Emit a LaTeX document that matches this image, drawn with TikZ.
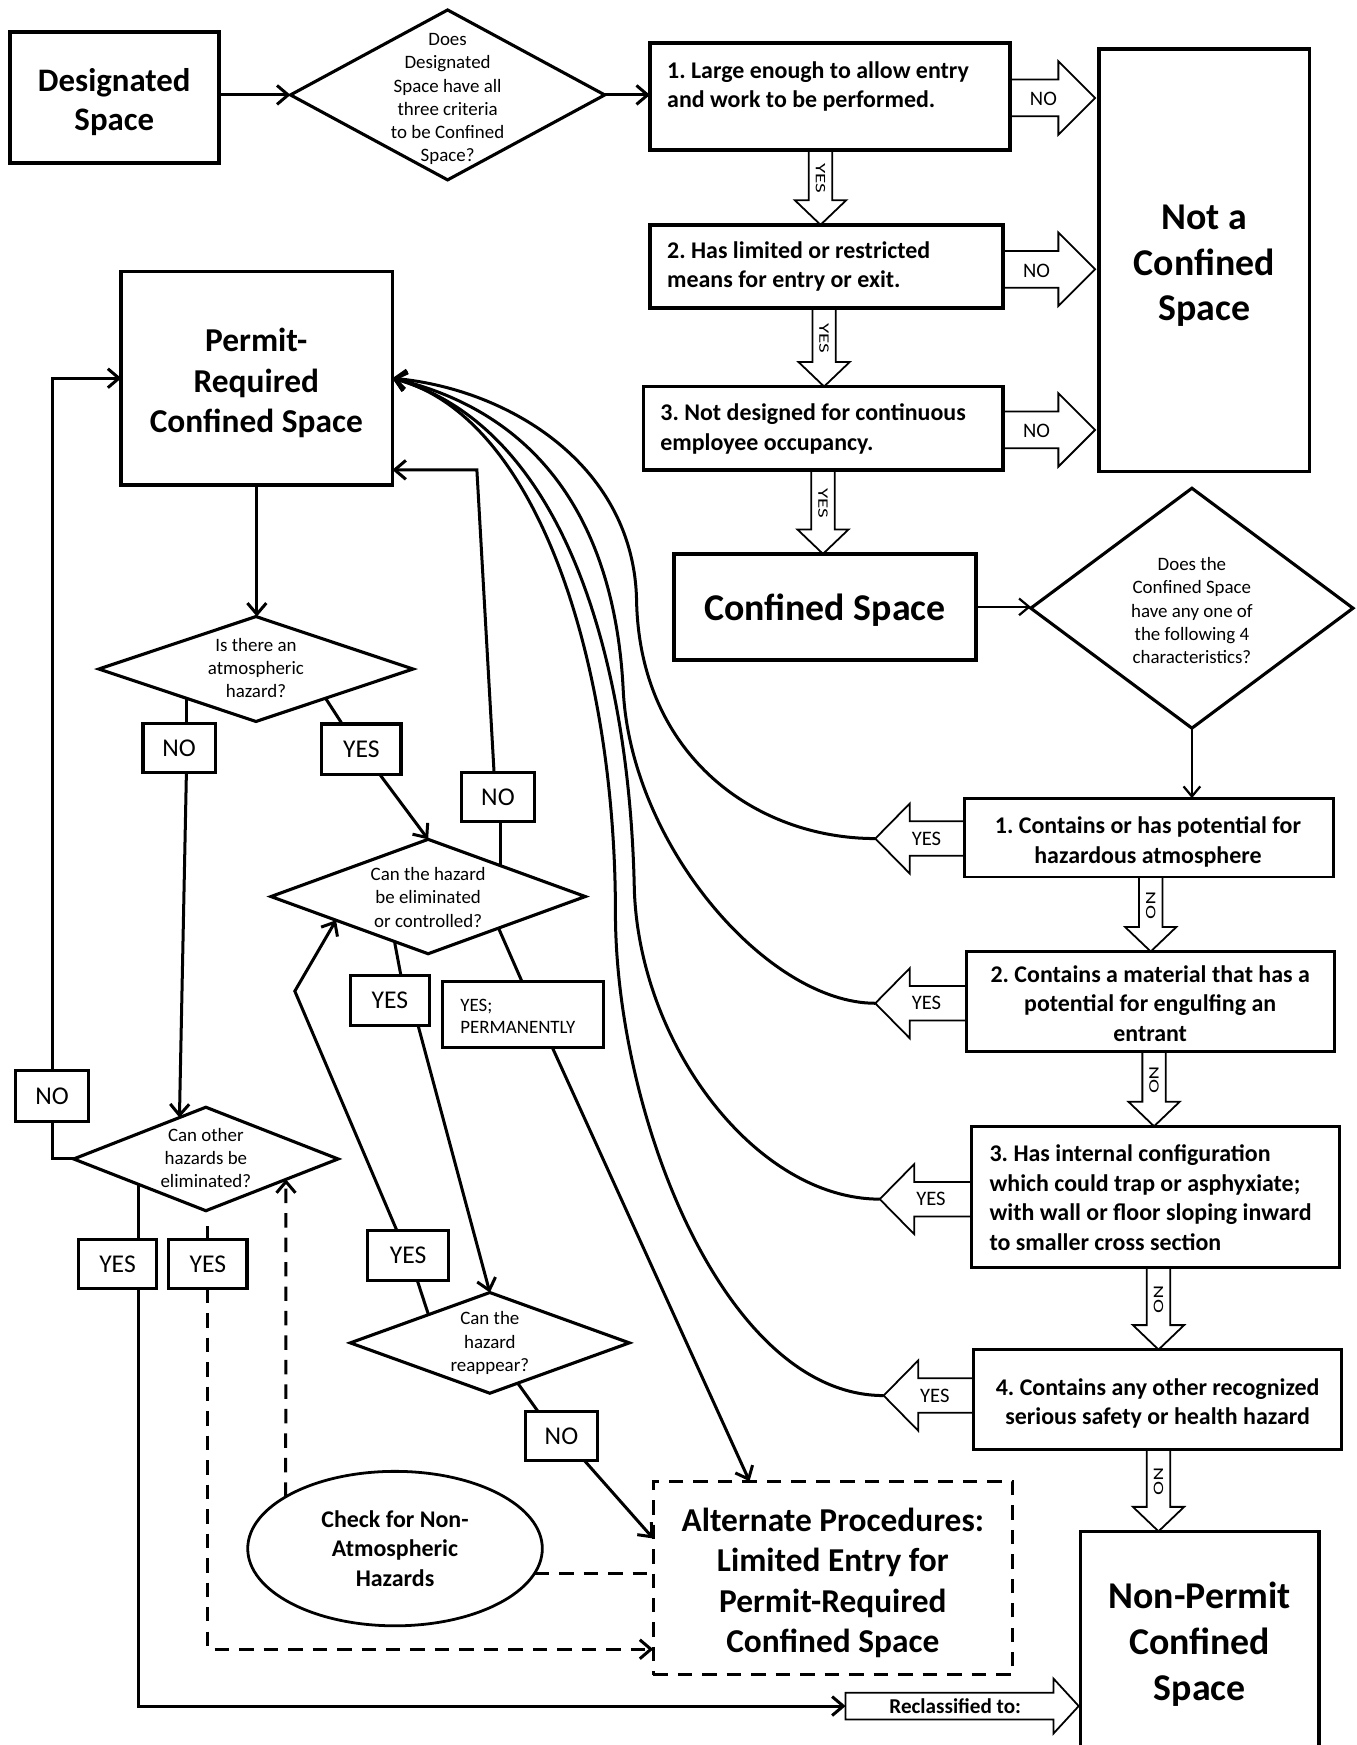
\documentclass[tikz,border=0pt]{standalone}
\usepackage{fontspec}
\setmainfont{Carlito}
\frenchspacing
\usetikzlibrary{shapes.geometric,arrows.meta,calc}
% right-pointing block arrow: name, x tail, x tip, y, label
\newcommand\barR[5]{%
  \draw[barr] (#2,#4-16.5) -- (#3-33,#4-16.5) -- (#3-33,#4-33) -- (#3,#4) -- (#3-33,#4+33) -- (#3-33,#4+16.5) -- (#2,#4+16.5);
  \node[alabel] (#1) at (#2+30,#4+1) {#5};}
% left-pointing block arrow: name, x tail, x tip, y, label
\newcommand\barL[5]{%
  \draw[barr] (#2,#4-15.5) -- (#3+31,#4-15.5) -- (#3+31,#4-31.5) -- (#3,#4) -- (#3+31,#4+31.5) -- (#3+31,#4+15.5) -- (#2,#4+15.5);
  \coordinate (#1tip) at (#3,#4);
  \node[alabel] (#1) at (#3+46,#4) {#5};}
% down-pointing block arrow: name, x, y tail, y tip, label
\newcommand\barD[5]{%
  \draw[barr] (#2-10.5,#3) -- (#2-10.5,#4-22) -- (#2-23,#4-22) -- (#2,#4) -- (#2+23,#4-22) -- (#2+10.5,#4-22) -- (#2+10.5,#3);
  \node[vlabel] (#1) at (#2,{(#3+#4-22)/2+3}) {\scalebox{1.45}[1]{#5}};}
\tikzset{
 every node/.style={inner sep=0pt, outer sep=0pt, text=black},
 bx/.style={draw, line width=3.3pt, rectangle},
 chb/.style={draw, line width=2.4pt, rectangle},
 lb/.style={draw, line width=2.8pt, rectangle, font=\fontsize{23}{27}\selectfont},
 dia/.style={draw, diamond, line width=2.8pt},
 dt/.style={align=center, font=\fontsize{17}{20.8}\selectfont},
 con/.style={line width=2.7pt, -{Straight Barb[length=10pt,width=17pt]}},
 thincon/.style={line width=2pt, -{Straight Barb[length=9pt,width=15pt]}},
 ln/.style={line width=2.7pt},
 dsh/.style={dash pattern=on 13pt off 9pt},
 barr/.style={draw, line width=1.6pt, line join=miter},
 alabel/.style={font=\fontsize{18.5}{22}\selectfont},
 vlabel/.style={font=\fontsize{13}{15}\selectfont, rotate=-90},
 hugeb/.style={font=\bfseries\fontsize{34}{41}\selectfont, align=center},
 bigb/.style={font=\bfseries\fontsize{30}{36.5}\selectfont, align=center},
 medb/.style={font=\bfseries\fontsize{21.5}{26.5}\selectfont},
 lefttext/.style={medb, align=left, anchor=west},
}
\begin{document}
\begin{tikzpicture}[x=1pt,y=-1pt]
\path[use as bounding box, fill=white] (0,0) rectangle (1219,1568);

% ---------- top row ----------
\node[bx, minimum width=188pt, minimum height=117.7pt] (des) at (102.7,87.9) {};
\node[font=\bfseries\fontsize{29.5}{35}\selectfont, align=center] (desT) at (102.7,91.5) {Designated\\Space};
\node[dia, minimum width=282.4pt, minimum height=152.7pt] (d1) at (402.2,85.3) {};
\node[dt] (d1t) at (402.2,89) {Does\\Designated\\Space have all\\three criteria\\to be Confined\\Space?};
\node[bx, minimum width=323.6pt, minimum height=95.8pt] (c1) at (745.8,86.8) {};
\node[lefttext] (c1t) at (599.5,77.8) {1. Large enough to allow entry\\and work to be performed.};
\node[bx, minimum width=317.4pt, minimum height=75pt] (c2) at (742.7,239.5) {};
\node[lefttext] (c2t) at (599.5,239.5) {2. Has limited or restricted\\means for entry or exit.};
\node[bx, minimum width=323.2pt, minimum height=74.9pt] (c3) at (739.8,384.75) {};
\node[lefttext] (c3t) at (593.4,385.5) {3. Not designed for continuous\\employee occupancy.};
\node[bx, minimum width=189pt, minimum height=379.4pt] (nc) at (1082.2,234) {};
\node[hugeb] (ncT) at (1082.2,239) {Not a\\Confined\\Space};

\draw[con] (des.east |- d1.west) -- (d1.west);
\draw[con] (d1.east) -- (d1.east -| c1.west);

\barR{no1}{907.6}{984}{88}{NO}
\barR{no2}{901.4}{984}{242}{NO}
\barR{no3}{901.4}{984}{386.3}{NO}
\barD{ys1}{737.3}{134.7}{202}{YES}
\barD{ys2}{740.5}{277}{347.3}{YES}
\barD{ys3}{739.5}{422.2}{497.7}{YES}

% ---------- right column ----------
\node[bx, minimum width=271.1pt, minimum height=95.2pt] (cs) at (741.2,545.3) {};
\node[hugeb] (csT) at (741.2,548.5) {Confined Space};
\node[dia, minimum width=289.5pt, minimum height=215.6pt] (d2) at (1071,546.5) {};
\node[dt] (d2t) at (1071,548.7) {Does the\\Confined Space\\have any one of\\the following 4\\characteristics?};
\draw[thincon] (cs.east) -- (cs.east -| d2.west);

\node[chb, minimum width=331.5pt, minimum height=70.9pt] (ch1) at (1032.25,752.65) {};
\node[medb, align=center] (ch1T) at (1031.5,756.5) {1. Contains or has potential for\\hazardous atmosphere};
\draw[thincon] (d2.south) -- (d2.south |- ch1.north);
\node[chb, minimum width=330.7pt, minimum height=89.7pt] (ch2) at (1033.95,899.85) {};
\node[medb, align=center] (ch2T) at (1033.5,901.5) {2. Contains a material that has a\\potential for engulfing an\\entrant};
\node[chb, minimum width=330.7pt, minimum height=127pt] (ch3) at (1038.05,1075.5) {};
\node[lefttext] (ch3T) at (889.2,1076) {3. Has internal configuration\\which could trap or asphyxiate;\\with wall or floor sloping inward\\to smaller cross section};
\node[chb, minimum width=330.8pt, minimum height=89.8pt] (ch4) at (1040.2,1257.6) {};
\node[medb, align=center] (ch4T) at (1040.2,1261) {4. Contains any other recognized\\serious safety or health hazard};

\barD{nn1}{1034}{788.1}{855}{NO}
\barD{nn2}{1037}{944.7}{1012}{NO}
\barD{nn3}{1041}{1139}{1212.7}{NO}
\barD{nn4}{1041}{1302.5}{1376}{NO}
\barL{yl1}{866.5}{786.5}{753.5}{YES}
\barL{yl2}{868.6}{786.5}{901.5}{YES}
\barL{yl3}{872.7}{790.5}{1077.5}{YES}
\barL{yl4}{874.8}{794}{1254}{YES}

\node[bx, minimum width=214pt, minimum height=198pt] (np) at (1078,1475) {};
\node[hugeb] (npT) at (1078,1477.5) {Non-Permit\\Confined\\Space};

% ---------- left part ----------
\node[bx, minimum width=243.6pt, minimum height=191.7pt] (prcs) at (230.8,339.85) {};
\node[bigb] (prcsT) at (230.3,344.3) {Permit-\\Required\\Confined Space};
\node[draw, line width=2.8pt, dsh, minimum width=322.7pt, minimum height=173.7pt] (alt) at (748.35,1417.85) {};
\node[bigb] (altT) at (748.35,1422.3) {Alternate Procedures:\\Limited Entry for\\Permit-Required\\Confined Space};

\node[dia, minimum width=282.3pt, minimum height=94.3pt] (atm) at (230,601.15) {};
\node[dt] (atmt) at (230,600.4) {Is there an\\atmospheric\\hazard?};
\node[lb, minimum width=65.1pt, minimum height=44pt] (noA) at (161,672) {NO};
\node[lb, minimum width=71.3pt, minimum height=45pt] (yesA) at (324.65,673.1) {YES};
\node[dia, minimum width=282.4pt, minimum height=102.8pt] (elim) at (384.7,805.6) {};
\node[dt] (elimt) at (384.7,806.4) {Can the hazard\\be eliminated\\or controlled?};
\node[lb, minimum width=65.1pt, minimum height=44pt] (noB) at (447.45,716.3) {NO};
\node[lb, minimum width=70.9pt, minimum height=45.6pt] (yesB) at (350.25,899) {YES};
\node[draw, line width=2.8pt, minimum width=144.6pt, minimum height=59.7pt] (perm) at (470.3,911.45) {};
\node[font=\fontsize{17}{20}\selectfont, align=left, anchor=west] (permT) at (413.7,913) {YES;\\PERMANENTLY};
\node[dia, minimum width=250.7pt, minimum height=90.5pt] (reap) at (440.15,1206.65) {};
\node[dt] (reapt) at (440.15,1206.8) {Can the\\hazard\\reappear?};
\node[lb, minimum width=72.1pt, minimum height=44.9pt] (yesC) at (366.65,1128.05) {YES};
\node[lb, minimum width=64.2pt, minimum height=44.5pt] (noC) at (504.5,1290.35) {NO};
\node[dia, minimum width=237.6pt, minimum height=93pt] (oth) at (185,1041.4) {};
\node[dt] (otht) at (185,1040.8) {Can other\\hazards be\\eliminated?};
\node[lb, minimum width=66.3pt, minimum height=45.9pt] (noL) at (46.75,984.75) {NO};
\node[lb, minimum width=70.8pt, minimum height=44.4pt] (yesD) at (105.6,1135.8) {YES};
\node[lb, minimum width=70.2pt, minimum height=44.4pt] (yesE) at (186.8,1135.8) {YES};
\node[draw, ellipse, line width=2.5pt, minimum width=264.7pt, minimum height=138.8pt, font=\bfseries\fontsize{21.5}{26.7}\selectfont, align=center] (chk) at (354.95,1391.5) {Check for Non-\\Atmospheric\\Hazards};

% reclassified arrow
\coordinate (rcTail) at (759.8,1533);
\draw[barr] (759.8,1521) -- (946.6,1521) -- (946.6,1508.3) -- (969.3,1533) -- (946.6,1557.7) -- (946.6,1545) -- (759.8,1545) -- cycle;
\node[font=\bfseries\fontsize{19}{22}\selectfont] (recl) at (858.3,1533) {Reclassified to:};

% ---------- connectors ----------
\draw[con] (prcs.south) -- (prcs.south |- atm.north);
\draw[con] (noL.north) |- (prcs.west);
\draw[ln] (noL.south) |- (oth.west);

\coordinate (atmL) at ($(atm.west)!0.56!(atm.south)$);
\draw[ln] (atmL) -- (atmL |- noA.north);
\draw[con] ($(noA.south)+(6.5,0)$) -- ($(oth.west)!0.8!(oth.north)$);
\coordinate (atmR) at ($(atm.south)!0.443!(atm.east)$);
\draw[ln] (atmR) -- ($(yesA.north west)!0.26!(yesA.north east)$);
\draw[con] ($(yesA.south west)!0.73!(yesA.south east)$) -- (elim.north);

\coordinate (elNE) at ($(elim.north)!0.462!(elim.east)$);
\draw[ln] (elNE) -- (elNE |- noB.south);
\coordinate (bendB) at (428.5,422.2);
\draw[con] ($(noB.north)+(-3.5,0)$) -- (bendB) -- (bendB -| prcs.east);
\coordinate (elSW) at ($(elim.west)!0.786!(elim.south)$);
\draw[ln] (elSW) -- ($(yesB.north west)!0.64!(yesB.north east)$);
\draw[con] ($(yesB.south west)!0.86!(yesB.south east)$) -- (reap.north);
\coordinate (elSE) at ($(elim.south)!0.448!(elim.east)$);
\draw[ln] (elSE) -- ($(perm.north west)!0.49!(perm.north east)$);
\draw[con] ($(perm.south west)!0.68!(perm.south east)$) -- ($(alt.north west)!0.268!(alt.north east)$);

\coordinate (rpNW) at ($(reap.west)!0.56!(reap.north)$);
\draw[ln] (rpNW) -- ($(yesC.south west)!0.615!(yesC.south east)$);
\coordinate (bendC) at (264.9,890.6);
\draw[con] ($(yesC.north west)!0.36!(yesC.north east)$) -- (bendC) -- ($(elim.west)!0.414!(elim.south)$);
\coordinate (rpSE) at ($(reap.south)!0.2!(reap.east)$);
\draw[ln] (rpSE) -- ($(noC.north west)!0.17!(noC.north east)$);
\coordinate (altIn) at ($(alt.north west)!0.296!(alt.south west)$);
\draw[con] ($(noC.south west)!0.824!(noC.south east)$) -- (altIn);

\coordinate (otSW) at ($(oth.west)!0.49!(oth.south)$);
\draw[ln] (otSW) -- (otSW |- yesD.north);
\draw[ln] (yesE.north) -- ++(0,-11.6);
\draw[con] (otSW |- yesD.south) |- (rcTail);
\coordinate (altIn2) at ($(alt.north west)!0.869!(alt.south west)$);
\draw[con, dsh] (yesE.south) |- (altIn2);
\draw[ln, dsh] (chk.-10) -- (chk.-10 -| alt.west);
\draw[con, dsh] ($(chk.center)+(-98.25,-46.5)$) -- ($(oth.south)!0.606!(oth.east)$);

% curves from the four characteristics back to the permit-required space
\draw[con] (yl1tip) .. controls (680,753.5) and (575,680) .. (572,540) .. controls (570,420) and (460,350) .. (prcs.east);
\draw[con] (yl2tip) .. controls (690,901.5) and (567,760) .. (560,620) .. controls (555,520) and (520,380) .. (prcs.east);
\draw[con] (yl3tip) .. controls (680,1077.5) and (575,940) .. (570,800) .. controls (566,600) and (510,385) .. (prcs.east);
\draw[con] (yl4tip) .. controls (650,1254) and (553,1000) .. (553,820) .. controls (553,600) and (485,375) .. (prcs.east);
\end{tikzpicture}
\end{document}
